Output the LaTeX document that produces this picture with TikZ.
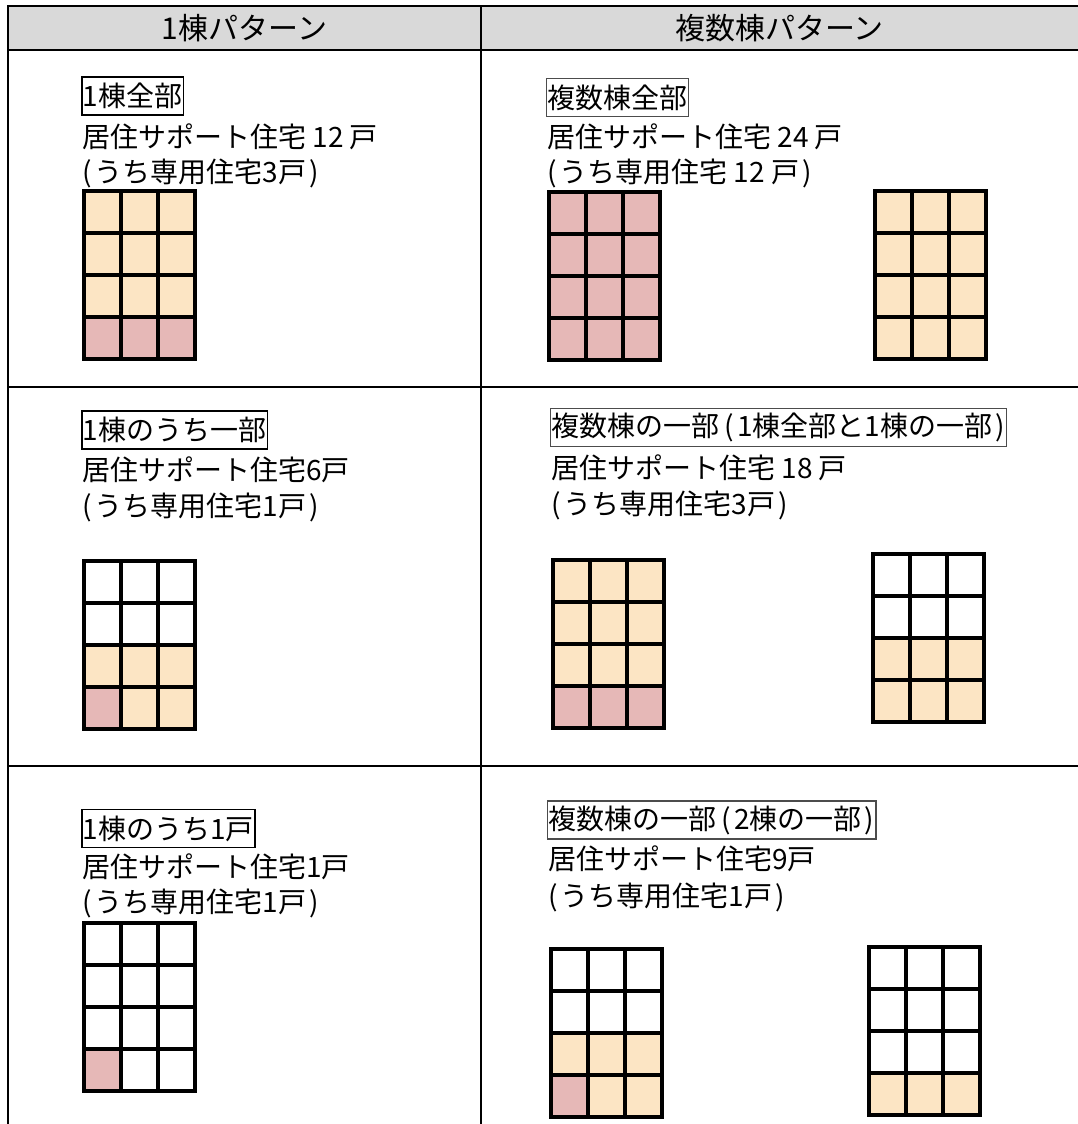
\documentclass[tikz,border=0pt]{standalone}
\usepackage{fontspec}
\setmainfont{Noto Sans CJK JP}
\definecolor{beige}{RGB}{252,229,196}
\definecolor{rose}{RGB}{230,184,183}
\definecolor{headgray}{RGB}{217,217,217}
\colorlet{W}{white}
\colorlet{B}{beige}
\colorlet{P}{rose}
\newcommand{\lp}{(\kern3pt}
\newcommand{\rp}{\kern3pt)}
\newcommand{\lpw}{\kern5pt(\kern3pt}
\newcommand{\rpw}{\kern3pt)\kern1pt}
\tikzset{
  txt/.style={anchor=west, inner sep=1pt, font=\fontsize{28}{32}\selectfont},
  tag/.style={txt, draw, line width=1.8pt, minimum height=38pt},
  tagr/.style={txt, draw=black!70, line width=1.2pt, minimum height=38pt},
  rule/.style={line width=2.5pt}
}
\newcommand{\tower}[3]{%
  \foreach \kind [count=\i from 0] in {#3} {
    \pgfmathtruncatemacro{\ucol}{mod(\i,3)}
    \pgfmathtruncatemacro{\urow}{\i/3}
    \fill[fill=\kind] ({#1+2+\ucol*37},{#2+2+\urow*42}) rectangle ++(37,42);
  }
  \foreach \k in {1,2} \draw[line width=3.5pt] ({#1+2+\k*37},{#2+2}) -- ++(0,168);
  \foreach \k in {1,2,3} \draw[line width=3.5pt] ({#1+2},{#2+2+\k*42}) -- ++(111,0);
  \draw[line width=4pt] ({#1+2},{#2+2}) rectangle ++(111,168);
}
\begin{document}
\begin{tikzpicture}[x=1pt, y=-1pt]
\useasboundingbox (0,0) rectangle (1078,1124);
\fill[headgray] (8,6) rectangle (1078,50);
\draw[rule] (1078,6) -- (8,6) -- (8,1124);
\draw[rule] (481,6) -- (481,1124);
\foreach \y in {50,387,766} \draw[rule] (8,\y) -- (1078,\y);

\node[font=\fontsize{30}{36}\selectfont] (h1) at (244.5,28) {1棟パターン};
\node[font=\fontsize{30}{36}\selectfont] (h2) at (779.5,28) {複数棟パターン};

\node[tag] (t11) at (81,96) {1棟全部};
\node[txt] (a11) at (81,137) {居住サポート住宅 12 戸};
\node[txt] (b11) at (81,173) {\lp うち専用住宅3戸\rp};
\tower{82}{189}{B,B,B,B,B,B,B,B,B,P,P,P}

\node[tagr] (t12) at (546,97.5) {複数棟全部};
\node[txt] (a12) at (546,137) {居住サポート住宅 24 戸};
\node[txt] (b12) at (546,173) {\lp うち専用住宅 12 戸\rp};
\tower{547}{190}{P,P,P,P,P,P,P,P,P,P,P,P}
\tower{873}{189}{B,B,B,B,B,B,B,B,B,B,B,B}

\node[tag] (t21) at (81,430) {1棟のうち一部};
\node[txt] (a21) at (81,470) {居住サポート住宅6戸};
\node[txt] (b21) at (81,507) {\lp うち専用住宅1戸\rp};
\tower{82}{559}{W,W,W,W,W,W,B,B,B,P,B,B}

\node[tagr] (t22) at (550,427.5) {複数棟の一部\lpw 1棟全部と1棟の一部\rpw};
\node[txt] (a22) at (550,468) {居住サポート住宅 18 戸};
\node[txt] (b22) at (550,505) {\lp うち専用住宅3戸\rp};
\tower{551}{558}{B,B,B,B,B,B,B,B,B,P,P,P}
\tower{871}{552}{W,W,W,W,W,W,B,B,B,B,B,B}

\node[tag] (t31) at (81,828.5) {1棟のうち1戸};
\node[txt] (a31) at (81,867) {居住サポート住宅1戸};
\node[txt] (b31) at (81,903) {\lp うち専用住宅1戸\rp};
\tower{82}{921}{W,W,W,W,W,W,W,W,W,P,W,W}

\node[tagr] (t32) at (547,820) {複数棟の一部\lpw 2棟の一部\rpw};
\node[txt] (a32) at (547,859) {居住サポート住宅9戸};
\node[txt] (b32) at (547,897) {\lp うち専用住宅1戸\rp};
\tower{549}{947}{W,W,W,W,W,W,B,B,B,P,B,B}
\tower{867}{945}{W,W,W,W,W,W,W,W,W,B,B,B}
\end{tikzpicture}
\end{document}
